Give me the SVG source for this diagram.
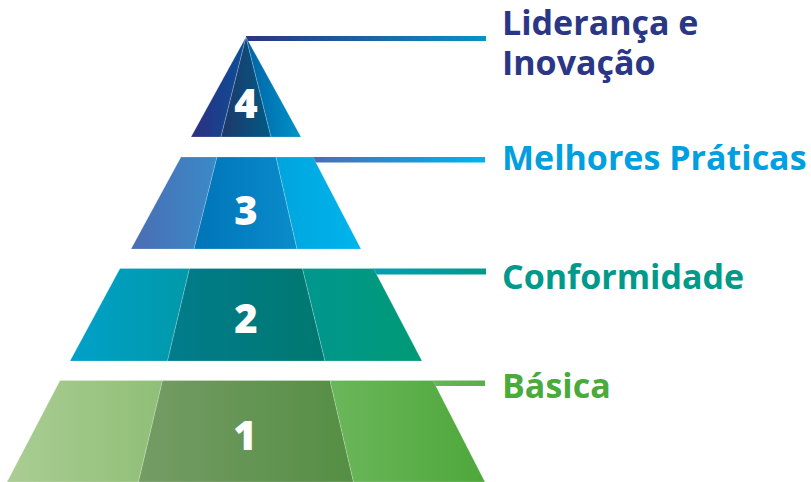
<svg xmlns="http://www.w3.org/2000/svg" width="811" height="482" viewBox="0 0 811 482">
<defs>
<linearGradient id="g4a" x1="0" x2="1"><stop offset="0" stop-color="#2c2f7f"/><stop offset="1" stop-color="#0b4f99"/></linearGradient>
<linearGradient id="g4b" x1="0" x2="1"><stop offset="0" stop-color="#1f3768"/><stop offset="1" stop-color="#005a86"/></linearGradient>
<linearGradient id="g4c" x1="0" x2="1"><stop offset="0" stop-color="#0063a6"/><stop offset="1" stop-color="#0093c8"/></linearGradient>
<linearGradient id="l4" x1="0" x2="1"><stop offset="0" stop-color="#2b3482"/><stop offset="1" stop-color="#0a92c6"/></linearGradient>
<linearGradient id="g3a" x1="0" x2="1"><stop offset="0" stop-color="#4b6db3"/><stop offset="1" stop-color="#3a8ac8"/></linearGradient>
<linearGradient id="g3b" x1="0" x2="1"><stop offset="0" stop-color="#0074b8"/><stop offset="1" stop-color="#0a8ccb"/></linearGradient>
<linearGradient id="g3c" x1="0" x2="1"><stop offset="0" stop-color="#00a4dd"/><stop offset="1" stop-color="#00b5ec"/></linearGradient>
<linearGradient id="l3" x1="0" x2="1"><stop offset="0" stop-color="#4a6db4"/><stop offset="1" stop-color="#00b4ec"/></linearGradient>
<linearGradient id="g2a" x1="0" x2="1"><stop offset="0" stop-color="#00a0c9"/><stop offset="1" stop-color="#0099a9"/></linearGradient>
<linearGradient id="g2b" x1="0" x2="1"><stop offset="0" stop-color="#007c8c"/><stop offset="1" stop-color="#007870"/></linearGradient>
<linearGradient id="g2c" x1="0" x2="1"><stop offset="0" stop-color="#00968f"/><stop offset="1" stop-color="#009a76"/></linearGradient>
<linearGradient id="l2" x1="0" x2="1"><stop offset="0" stop-color="#00a0b2"/><stop offset="1" stop-color="#009a8a"/></linearGradient>
<linearGradient id="g1a" x1="0" x2="1"><stop offset="0" stop-color="#aacd93"/><stop offset="1" stop-color="#8fbf77"/></linearGradient>
<linearGradient id="g1b" x1="0" x2="1"><stop offset="0" stop-color="#749c65"/><stop offset="1" stop-color="#558e44"/></linearGradient>
<linearGradient id="g1c" x1="0" x2="1"><stop offset="0" stop-color="#6bb65b"/><stop offset="1" stop-color="#4ea83b"/></linearGradient>
<linearGradient id="l1" x1="0" x2="1"><stop offset="0" stop-color="#6ab55a"/><stop offset="1" stop-color="#5cab4b"/></linearGradient>
</defs>
<style>
.seg{stroke:#ffffff;stroke-opacity:0.25;stroke-width:0.8}
.num{font-family:"Open Sans","Liberation Sans",sans-serif;font-weight:800;font-size:40px;fill:#ffffff;text-anchor:middle}
.lbl{font-family:"Open Sans","Liberation Sans",sans-serif;font-weight:700;font-size:34px}
</style>
<g id="connectors">
<rect x="246" y="36" width="240" height="5" fill="url(#l4)"/>
<rect x="312" y="157" width="173" height="5.5" fill="url(#l3)"/>
<rect x="373" y="268.5" width="113" height="6" fill="url(#l2)"/>
<rect x="433" y="380.5" width="52" height="5.5" fill="url(#l1)"/>
</g>
<g id="tier4">
<polygon class="seg" points="246,37 191,137 221,137" fill="url(#g4a)"/>
<polygon class="seg" points="246,37 221,137 271,137" fill="url(#g4b)"/>
<polygon class="seg" points="246,37 271,137 301,137" fill="url(#g4c)"/>
<text class="num" x="246" y="118">4</text>
</g>
<g id="tier3">
<polygon class="seg" points="181,157 217,157 194,249 131,249" fill="url(#g3a)"/>
<polygon class="seg" points="217,157 276,157 297,249 194,249" fill="url(#g3b)"/>
<polygon class="seg" points="276,157 313,157 361,249 297,249" fill="url(#g3c)"/>
<text class="num" x="246" y="225">3</text>
</g>
<g id="tier2">
<polygon class="seg" points="120,268.5 189.5,268.5 167.5,361 70,361" fill="url(#g2a)"/>
<polygon class="seg" points="189.5,268.5 302.5,268.5 325,361 167.5,361" fill="url(#g2b)"/>
<polygon class="seg" points="302.5,268.5 373.5,268.5 422,361 325,361" fill="url(#g2c)"/>
<text class="num" x="246" y="333">2</text>
</g>
<g id="tier1">
<polygon class="seg" points="60,380.5 162.5,380.5 138.5,482 7,482" fill="url(#g1a)"/>
<polygon class="seg" points="162.5,380.5 330,380.5 353.5,482 138.5,482" fill="url(#g1b)"/>
<polygon class="seg" points="330,380.5 433,380.5 485,482 353.5,482" fill="url(#g1c)"/>
<text class="num" x="245" y="450">1</text>
</g>
<g id="labels">
<text class="lbl" fill="#2b3786"><tspan x="502" y="35">Liderança e</tspan><tspan x="502" y="75">Inovação</tspan></text>
<text class="lbl" x="502" y="170" fill="#00a0e0">Melhores Práticas</text>
<text class="lbl" x="502" y="289" fill="#00998a">Conformidade</text>
<text class="lbl" x="502" y="398" fill="#4aaa3c">Básica</text>
</g>
</svg>
